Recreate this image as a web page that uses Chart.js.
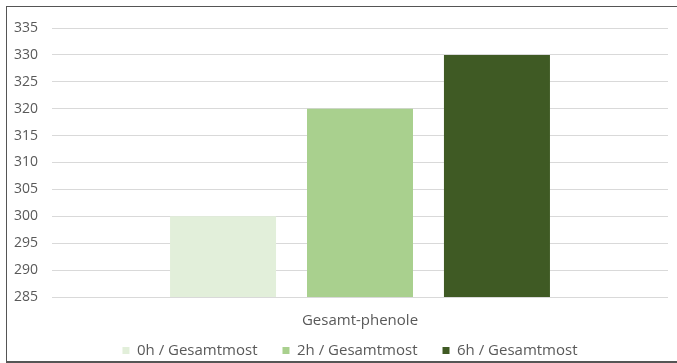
<!DOCTYPE html>
<html>
<head>
<meta charset="utf-8">
<script src="https://cdn.jsdelivr.net/npm/chart.js@4"></script>
<style>
    body { margin: 0; background: #fff; }
    #wrap { position: relative; width: 677px; height: 363px; }
    #frame {
        position: absolute; left: 6px; top: 6px; width: 680px; height: 354px;
        border-left: 1px solid #555; border-top: 1px solid #555; border-bottom: 2px solid #555;
        pointer-events: none;
    }
    canvas { position: absolute; left: 0; top: 0; }
</style>
</head>
<body>
<div id="wrap">
    <canvas id="chart" width="677" height="363"></canvas>
    <div id="frame"></div>
</div>
<script>
// Data
const categories = ['Gesamt-phenole'];
const seriesNames = ['0h / Gesamtmost', '2h / Gesamtmost', '6h / Gesamtmost'];
const seriesValues = [[300], [320], [330]];
const seriesColors = ['#e2efda', '#a9d08e', '#3f5a24'];
const yTicks = [285, 290, 295, 300, 305, 310, 315, 320, 325, 330, 335];

Chart.defaults.font.family = '"Open Sans", sans-serif';
Chart.defaults.color = '#595959';

// wide gaps between legend items need a big padding, so pull the legend back
// up into view and nudge it right (the original is centred on the frame)
const legendShift = {
    id: 'legendShift',
    afterLayout(chart) {
        const lg = chart.legend;
        if (!lg) return;
        lg.top -= 27;
        lg.bottom -= 27;
        lg.left += 16;
        lg.right += 16;
    }
};

const ctx = document.getElementById('chart');

new Chart(ctx, {
    type: 'bar',
    data: {
        labels: categories,
        datasets: seriesNames.map((name, i) => ({
            label: name,
            data: seriesValues[i],
            backgroundColor: seriesColors[i],
            borderWidth: 0,
            categoryPercentage: 0.667,
            barPercentage: 0.774
        }))
    },
    options: {
        responsive: false,
        animation: false,
        layout: {
            padding: { left: 0, right: 9, top: 28, bottom: -32 }
        },
        plugins: {
            legend: {
                position: 'bottom',
                labels: {
                    usePointStyle: true,
                    pointStyle: 'rect',
                    boxWidth: 7,
                    boxHeight: 7,
                    padding: 25,
                    font: { size: 15 }
                }
            },
            tooltip: { enabled: false }
        },
        scales: {
            x: {
                grid: { display: false, drawTicks: false },
                border: { display: false },
                ticks: { font: { size: 15 }, padding: 15 }
            },
            y: {
                min: 285,
                max: 335,
                afterFit: function(scale) {
                    scale.width = 52;
                },
                afterBuildTicks: function(scale) {
                    scale.ticks = yTicks.map(v => ({ value: v }));
                },
                grid: {
                    color: '#d9d9d9',
                    drawTicks: false
                },
                border: { display: false },
                ticks: {
                    font: { size: 14 },
                    padding: 14
                }
            }
        }
    },
    plugins: [legendShift]
});
</script>
</body>
</html>
